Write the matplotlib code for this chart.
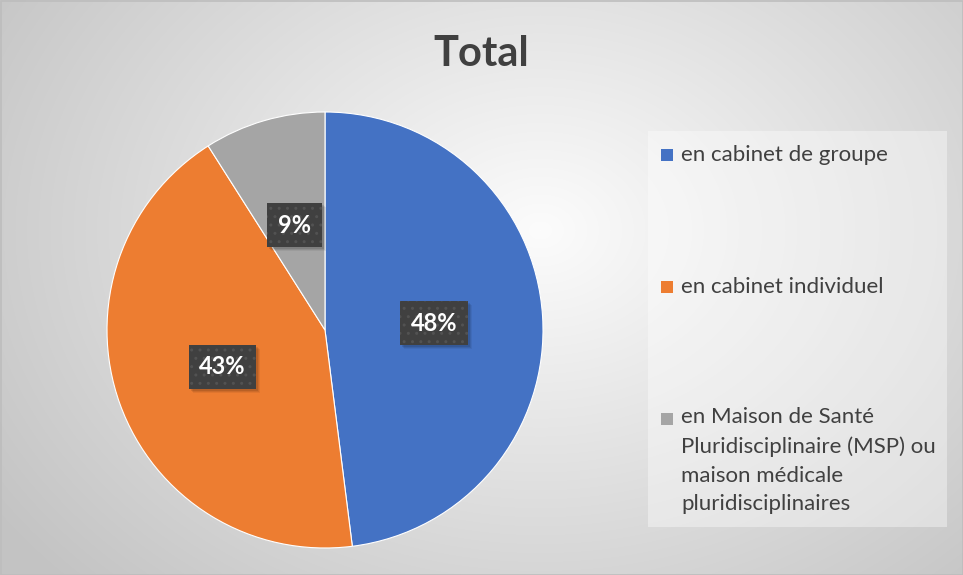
import numpy as np
import matplotlib
matplotlib.use("Agg")
import matplotlib.pyplot as plt
from matplotlib.patches import Rectangle
from matplotlib.transforms import IdentityTransform

plt.rcParams['font.family'] = ['Lato', 'DejaVu Sans']

# data
categories = ["en cabinet de groupe",
              "en cabinet individuel",
              "en Maison de Santé\nPluridisciplinaire (MSP) ou\nmaison médicale\npluridisciplinaires"]
values = [48, 43, 9]
colors = ["#4472C4", "#ED7D31", "#A5A5A5"]
title = "Total"

W, H = 963, 575
TXT = "#404040"

fig = plt.figure(figsize=(W / 100, H / 100), dpi=100)

# background: radial gradient, pixel coordinates
bg = fig.add_axes([0, 0, 1, 1])
bg.set_xlim(0, W)
bg.set_ylim(H, 0)
bg.axis("off")
yy, xx = np.mgrid[0:H, 0:W]
d = np.sqrt(((xx - 540) / 560.0) ** 2 + ((yy - 230) / 430.0) ** 2)
grey = np.clip(252 - 48 * d, 195, 255) / 255.0
bg.imshow(np.dstack([grey, grey, grey]), extent=(0, W, H, 0), aspect="auto", zorder=0)
bg.add_patch(Rectangle((0.5, 0.5), W - 1, H - 1, fill=False, edgecolor="#bdbdbd", lw=1.2, zorder=1))

# legend panel
bg.add_patch(Rectangle((648, 131), 299, 396, facecolor="white", alpha=0.38, edgecolor="none", zorder=1))
ys = [161, 293, 425]
line_h = 28.5
for lab, col, y in zip(categories, colors, ys):
    bg.add_patch(Rectangle((661, y - 12), 12, 12, facecolor=col, edgecolor="none", zorder=2))
    nl = lab.count("\n")
    # multi-line text: baseline anchor is the last line
    bg.text(681, y + nl * line_h, lab, fontsize=16, color=TXT, va="baseline", ha="left",
            linespacing=1.55, zorder=2)

# title
fig.text(481 / W, 1 - 66 / H, title, fontsize=30, fontweight="bold", color=TXT,
         ha="center", va="baseline")

# pie
r = 218
cx, cy = 325, 330
ax = fig.add_axes([(cx - r) / W, (H - cy - r) / H, 2 * r / W, 2 * r / H])
wedges, texts, autotexts = ax.pie(values, colors=colors, startangle=90, counterclock=False,
                                  autopct="%1.0f%%", pctdistance=0.5,
                                  wedgeprops=dict(edgecolor="white", linewidth=0.8))
ax.set_xlim(-1, 1)
ax.set_ylim(-1, 1)
ax.set_aspect("equal")
ax.set_autoscale_on(False)

plt.rcParams['hatch.linewidth'] = 1.0
for t in autotexts:
    t.set_color("white")
    t.set_fontsize(17)
    t.set_fontweight("bold")
    t.set_zorder(5)
    t.set_bbox(dict(boxstyle="square,pad=0.45", facecolor="#404040",
                    edgecolor="#525252", linewidth=0, hatch=".."))

# soft drop shadow under each label box (pixel rectangles taken from the drawn boxes)
fig.canvas.draw()
for t in autotexts:
    bb = t.get_bbox_patch().get_window_extent()
    for off, a in [(4, 0.06), (3, 0.08), (2, 0.1)]:
        ax.add_patch(Rectangle((bb.x0 + off, bb.y0 - off), bb.width, bb.height,
                               transform=IdentityTransform(), facecolor="black", alpha=a,
                               edgecolor="none", zorder=4, clip_on=False))

fig.savefig("out.png", dpi=100)
